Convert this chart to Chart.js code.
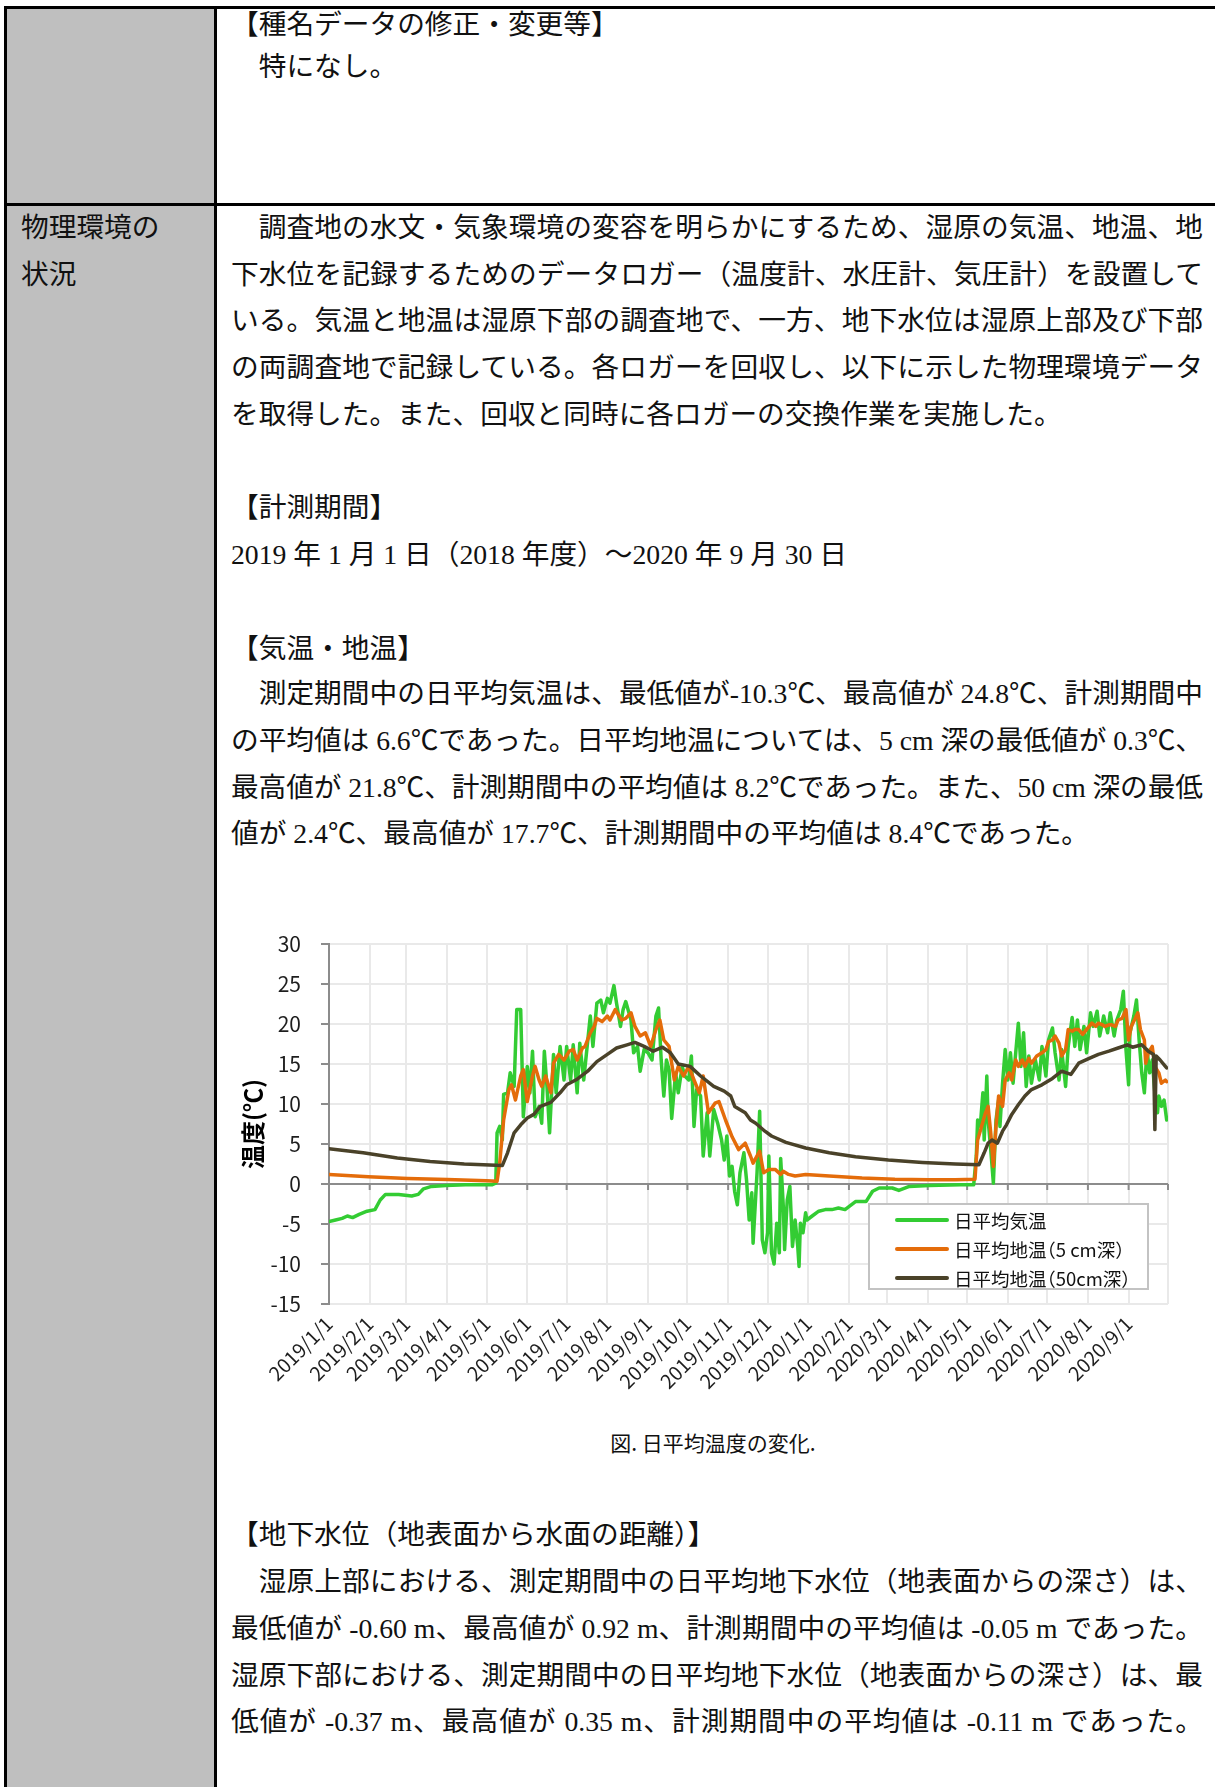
<!DOCTYPE html>
<html lang="ja">
<head>
<meta charset="utf-8">
<title>日平均温度の変化</title>
<script src="https://cdn.jsdelivr.net/npm/chart.js@4.4.1/dist/chart.umd.min.js"></script>
<style>
  html, body { margin: 0; padding: 0; background: #fff; }
  body { width: 1215px; height: 1787px; position: relative; overflow: hidden;
         font-family: "Liberation Serif", "Noto Sans CJK JP", serif; color: #111; }
  .ln { position: absolute; font-size: 27.7px; line-height: 46px; height: 46px; white-space: nowrap; }
  .jt { width: 972px; text-align: justify; text-align-last: justify; white-space: normal; }
  .rule { position: absolute; background: #000; }
  #gray { position: absolute; left: 6px; top: 8px; width: 208px; height: 1790px; background: #bfbfbf; }
  #chartBox { position: absolute; left: 228px; top: 904px; width: 970px; height: 506px; }
  #caption { position: absolute; left: 463px; width: 500px; top: 1428px; text-align: center;
             font-family: "Noto Sans CJK JP", sans-serif; font-size: 21px; line-height: 28px; color: #111; }
  #legend { position: absolute; left: 868px; top: 1203px; width: 277px; height: 83px;
            border: 2px solid #c3c3c3; background: #fff; font-family: "Noto Sans CJK JP", sans-serif;
            font-size: 18.5px; color: #111; font-feature-settings: "halt"; }
  .lg { position: absolute; left: 0; height: 26px; line-height: 26px; }
  .lg i { position: absolute; left: 25px; top: 11px; width: 54px; height: 4px; border-radius: 2px; }
  .lg span { position: absolute; left: 84px; top: 0; white-space: nowrap; }
</style>
</head>
<body>
<div id="gray"></div>
<div class="rule" style="left:4px;top:6px;width:1215px;height:2.5px"></div>
<div class="rule" style="left:4px;top:6px;width:2.5px;height:1790px"></div>
<div class="rule" style="left:214px;top:6px;width:2.5px;height:1790px"></div>
<div class="rule" style="left:4px;top:203px;width:1215px;height:2.5px"></div>

<div class="ln" style="left:231px;top:2px">【種名データの修正・変更等】</div>
<div class="ln" style="left:231px;top:44px">　特になし。</div>

<div class="ln" style="left:21px;top:205px">物理環境の</div>
<div class="ln" style="left:21px;top:252px">状況</div>

<div class="ln jt" style="left:231px;top:205px">　調査地の水文・気象環境の変容を明らかにするため、湿原の気温、地温、地</div>
<div class="ln jt" style="left:231px;top:252px">下水位を記録するためのデータロガー（温度計、水圧計、気圧計）を設置して</div>
<div class="ln jt" style="left:231px;top:298px">いる。気温と地温は湿原下部の調査地で、一方、地下水位は湿原上部及び下部</div>
<div class="ln jt" style="left:231px;top:345px">の両調査地で記録している。各ロガーを回収し、以下に示した物理環境データ</div>
<div class="ln" style="left:231px;top:392px">を取得した。また、回収と同時に各ロガーの交換作業を実施した。</div>

<div class="ln" style="left:231px;top:485px">【計測期間】</div>
<div class="ln" style="left:231px;top:532px">2019 年 1 月 1 日（2018 年度）～2020 年 9 月 30 日</div>

<div class="ln" style="left:231px;top:626px">【気温・地温】</div>
<div class="ln jt" style="left:231px;top:671px">　測定期間中の日平均気温は、最低値が-10.3℃、最高値が 24.8℃、計測期間中</div>
<div class="ln jt" style="left:231px;top:718px">の平均値は 6.6℃であった。日平均地温については、5 cm 深の最低値が 0.3℃、</div>
<div class="ln jt" style="left:231px;top:765px">最高値が 21.8℃、計測期間中の平均値は 8.2℃であった。また、50 cm 深の最低</div>
<div class="ln" style="left:231px;top:811px">値が 2.4℃、最高値が 17.7℃、計測期間中の平均値は 8.4℃であった。</div>

<div id="chartBox"><canvas id="myChart" width="970" height="506"></canvas></div>
<div id="legend">
  <div class="lg" style="top:2px"><i style="background:#33cc33"></i><span>日平均気温</span></div>
  <div class="lg" style="top:31px"><i style="background:#e46c0a"></i><span>日平均地温（5 cm深）</span></div>
  <div class="lg" style="top:60px"><i style="background:#4a4229"></i><span>日平均地温（50cm深）</span></div>
</div>
<div id="caption">図. 日平均温度の変化.</div>

<div class="ln" style="left:231px;top:1512px">【地下水位（地表面から水面の距離）】</div>
<div class="ln jt" style="left:231px;top:1559px">　湿原上部における、測定期間中の日平均地下水位（地表面からの深さ）は、</div>
<div class="ln jt" style="left:231px;top:1606px">最低値が -0.60 m、最高値が 0.92 m、計測期間中の平均値は -0.05 m であった。</div>
<div class="ln jt" style="left:231px;top:1653px">湿原下部における、測定期間中の日平均地下水位（地表面からの深さ）は、最</div>
<div class="ln jt" style="left:231px;top:1699px">低値が -0.37 m、最高値が 0.35 m、計測期間中の平均値は -0.11 m であった。</div>

<script>
// fit the justified lines: squeeze the ones that are too long, justify the rest
const lineWidth = 972;
document.querySelectorAll('.jt').forEach(el => {
  el.style.width = 'auto';
  el.style.whiteSpace = 'nowrap';
  el.style.display = 'inline-block';
  const w = el.getBoundingClientRect().width;
  const n = Array.from(el.textContent).length;
  if (w > lineWidth) {
    el.style.letterSpacing = ((lineWidth - w) / n) + 'px';
  } else {
    el.style.display = 'block';
    el.style.width = lineWidth + 'px';
    el.style.whiteSpace = 'normal';
  }
});

// days counted from 2019/1/1
const monthDays = [0, 31, 59, 90, 120, 151, 181, 212, 243, 273, 304, 334,
                   365, 396, 425, 456, 486, 517, 547, 578, 609, 639];
const monthLabels = ['2019/1/1', '2019/2/1', '2019/3/1', '2019/4/1', '2019/5/1', '2019/6/1',
                     '2019/7/1', '2019/8/1', '2019/9/1', '2019/10/1', '2019/11/1', '2019/12/1',
                     '2020/1/1', '2020/2/1', '2020/3/1', '2020/4/1', '2020/5/1', '2020/6/1',
                     '2020/7/1', '2020/8/1', '2020/9/1'];

// 日平均気温
const airDays = [0, 5, 10, 14, 18, 23, 29, 35, 39, 43, 53, 63, 68, 72, 78, 89, 104, 124, 127,
  128, 130, 132, 133, 136, 138, 141, 143, 146, 148, 151, 153, 155, 157, 160, 162, 164, 166, 168,
  171, 173, 176, 179, 181, 184, 186, 189, 191, 194, 199, 201, 204, 207, 209, 212, 214, 217, 219,
  222, 224, 226, 230, 232, 235, 237, 240, 243, 246, 249, 251, 253, 255, 257, 259, 261, 264, 266,
  269, 271, 274, 276, 278, 280, 283, 285, 288, 290, 293, 296, 299, 301, 303, 305, 307, 309, 311,
  313, 316, 318, 320, 322, 323, 326, 328, 330, 332, 334, 335, 337, 339, 341, 343, 344, 346, 347,
  349, 351, 353, 355, 357, 358, 359, 361, 363, 364, 368, 373, 378, 383, 388, 393, 401, 409, 414,
  419, 429, 434, 442, 457, 481, 491,
  493, 494, 496, 498, 499, 501, 502, 504, 506, 508, 510, 511, 513, 515, 517, 519, 521, 523, 525,
  527, 529, 531, 533, 535, 538, 541, 543, 546, 548, 551, 553, 556, 558, 561, 563, 566, 568, 570,
  572, 575, 577, 580, 582, 585, 587, 590, 593, 595, 598, 600, 603, 605, 607, 609, 610, 613, 615,
  617, 619, 621, 623, 625, 627, 629, 631, 632, 634, 636, 638];
const airTemp = [-4.7, -4.5, -4.3, -4.0, -4.2, -3.8, -3.4, -3.2, -2.0, -1.3, -1.3, -1.5, -1.3, -0.6, -0.3, -0.2, -0.1, -0.1, 0.1,
  6.4, 7.2, 5.5, 11.2, 11.4, 13.9, 12.2, 21.8, 21.8, 8.4, 14.7, 11.4, 16.6, 8.4, 9.7, 7.6, 16.6, 12.2, 6.4,
  16.2, 11.4, 17.2, 13.0, 17.2, 13.0, 17.4, 11.4, 17.6, 13.0, 21.0, 17.2, 22.6, 23.0, 21.4, 23.2, 22.6, 24.8, 22.6,
  19.7, 21.8, 22.8, 20.5, 16.4, 17.2, 14.1, 16.8, 16.4, 15.5, 21.0, 22.0, 15.5, 11.0, 15.5, 14.3, 8.2, 13.9, 11.4,
  14.7, 13.5, 13.0, 16.0, 7.2, 11.8, 11.0, 3.5, 8.9, 3.5, 9.3, 7.6, 5.5, 3.0, 6.0, 1.0, 2.2, -1.0, -2.6,
  1.4, 3.9, 0.5, -4.5, -1.1, -7.4, 1.4, 9.1, -7.0, -8.6, -6.1, 3.5, -8.6, -10.0, -4.9, -8.6, 3.2, -2.8, -8.2,
  -2.0, -0.3, -7.8, -4.5, -7.8, -10.3, -4.9, -6.1, -3.6, -4.5, -4.0, -3.4, -3.2, -3.2, -3.0, -3.2, -2.2, -2.2, -0.9,
  -0.5, -0.5, -0.8, -0.3, -0.2, -0.1, -0.1,
  3.5, 8.0, 7.2, 11.4, 5.5, 13.5, 8.0, 4.3, 0.1, 8.0, 10.5, 7.2, 12.6, 16.8, 13.0, 16.4, 12.6, 16.4, 20.1,
  14.7, 18.9, 12.2, 16.0, 12.6, 15.5, 13.0, 17.2, 13.5, 18.0, 19.5, 16.4, 13.0, 16.8, 12.2, 17.2, 20.8, 17.2, 20.5,
  16.8, 19.7, 16.4, 21.4, 19.7, 21.6, 18.5, 21.0, 18.9, 21.4, 18.5, 20.5, 21.8, 24.1, 16.8, 12.4, 18.9, 21.0, 23.0,
  18.0, 13.9, 11.4, 16.8, 13.9, 15.5, 11.4, 8.9, 11.0, 9.7, 10.5, 8.0];

// 日平均地温（5 cm深）
const soil5Days = [0, 30, 60, 90, 120, 128, 130, 133, 137, 139, 142, 146, 148, 151, 155, 157, 160, 162,
  165, 169, 171, 175, 179, 183, 186, 189, 193, 195, 199, 202, 204, 208, 212, 214, 218, 221, 223, 226,
  230, 233, 237, 241, 245, 249, 252, 255, 259, 263, 266, 270, 274, 278, 282, 285, 289, 294, 297, 302,
  307, 312, 317, 321, 323, 328, 331, 335, 340, 344, 346, 350, 355, 363, 381, 406, 431, 457, 477, 492,
  494, 497, 500, 502, 504, 506, 508, 510, 513, 515, 518, 520, 523, 525, 528, 530, 533, 535, 539, 543,
  546, 548, 551, 553, 556, 558, 561, 563, 566, 568, 571, 574, 576, 579, 581, 584, 586, 589, 591, 594,
  596, 599, 601, 604, 607, 609, 611, 614, 616, 618, 621, 622, 624, 627, 629, 632, 634, 637, 638];
const soil5Temp = [1.2, 0.9, 0.7, 0.55, 0.4, 0.35, 2.6, 8.0, 11.8, 12.4, 10.5, 13.5, 14.3, 10.3, 13.5, 14.7, 13.0, 12.2,
  13.5, 11.4, 15.1, 16.2, 15.5, 16.6, 16.8, 15.5, 17.0, 17.2, 18.9, 19.7, 20.7, 20.3, 21.0, 20.5, 21.8, 21.0, 20.5, 20.7,
  21.4, 19.7, 18.5, 18.9, 17.2, 19.3, 20.5, 18.0, 17.2, 13.0, 14.7, 13.5, 14.7, 13.0, 11.4, 13.5, 8.9, 10.1, 10.3, 8.0,
  5.9, 4.3, 5.1, 3.5, 2.6, 4.1, 1.4, 1.8, 1.8, 1.2, 1.6, 1.2, 1.0, 1.2, 1.0, 0.75, 0.6, 0.54, 0.54, 0.6,
  5.5, 7.2, 8.9, 9.7, 6.4, 2.2, 7.2, 11.0, 9.7, 13.0, 13.9, 13.0, 15.5, 14.7, 15.5, 14.7, 15.7, 15.1, 16.0, 16.4,
  16.8, 17.8, 18.0, 18.5, 17.6, 16.0, 16.8, 19.3, 19.1, 19.3, 19.3, 18.7, 19.1, 19.7, 20.1, 19.7, 20.1, 19.9, 19.7, 19.9,
  19.9, 19.7, 20.5, 20.7, 21.8, 18.0, 19.7, 20.7, 21.4, 19.3, 18.0, 15.1, 16.4, 17.2, 14.7, 13.9, 12.6, 13.0, 12.8];

// 日平均地温（50cm深）
const soil50Days = [0, 26, 52, 77, 103, 132, 136, 141, 146, 151, 156, 161, 169, 176, 181, 189, 197, 204,
  212, 219, 227, 233, 240, 247, 254, 260, 266, 275, 283, 293, 301, 306, 309, 317, 321, 325, 332, 337,
  348, 363, 381, 401, 426, 452, 477, 495, 499, 502, 505, 509, 513, 516, 520, 525, 530, 535, 543, 551,
  558, 565, 571, 579, 586, 594, 601, 608, 612, 619, 624, 628, 629, 630, 633, 637, 638];
const soil50Temp = [4.4, 3.9, 3.25, 2.8, 2.5, 2.3, 3.9, 6.4, 7.4, 8.25, 8.7, 9.7, 10.2, 11.4, 12.4, 13.1, 14.1, 15.3,
  16.2, 17.0, 17.4, 17.7, 17.2, 16.6, 17.1, 16.4, 15.0, 14.7, 13.5, 12.2, 11.6, 11.0, 9.7, 8.9, 8.0, 7.6, 6.6, 6.0,
  5.2, 4.5, 3.9, 3.4, 3.0, 2.7, 2.5, 2.4, 3.9, 5.1, 5.5, 5.1, 6.6, 7.4, 8.7, 9.9, 11.0, 11.8, 12.4, 13.2,
  14.1, 13.7, 15.1, 15.7, 16.2, 16.6, 17.0, 17.4, 17.1, 17.4, 16.6, 16.2, 6.8, 16.0, 15.5, 14.7, 14.5];

function pairs(days, vals) {
  return days.map((d, i) => ({ x: d, y: vals[i] }));
}

// small tick marks hanging below the 0 line at each month start
const zeroTicks = {
  id: 'zeroTicks',
  beforeDatasetsDraw(chart) {
    const ctx = chart.ctx;
    const xs = chart.scales.x;
    const y0 = chart.scales.y.getPixelForValue(0);
    ctx.save();
    ctx.strokeStyle = '#8c8c8c';
    ctx.lineWidth = 2;
    monthDays.forEach(d => {
      const px = xs.getPixelForValue(d);
      ctx.beginPath();
      ctx.moveTo(px, y0);
      ctx.lineTo(px, y0 + 6);
      ctx.stroke();
    });
    ctx.restore();
  }
};

Chart.defaults.font.family = '"Noto Sans CJK JP", "Noto Sans", sans-serif';
Chart.defaults.font.size = 20;
Chart.defaults.color = '#1e1e1e';

const lineStyle = { pointRadius: 0, borderWidth: 3.5, tension: 0, borderJoinStyle: 'round', borderCapStyle: 'round' };

let myChart = new Chart(document.getElementById('myChart'), {
  type: 'line',
  data: {
    datasets: [
      Object.assign({ label: '日平均気温', data: pairs(airDays, airTemp), borderColor: '#33cc33', order: 3 }, lineStyle),
      Object.assign({ label: '日平均地温（5 cm深）', data: pairs(soil5Days, soil5Temp), borderColor: '#e46c0a', order: 2 }, lineStyle),
      Object.assign({ label: '日平均地温（50cm深）', data: pairs(soil50Days, soil50Temp), borderColor: '#4a4229', order: 1 }, lineStyle)
    ]
  },
  options: {
    responsive: false,
    animation: false,
    devicePixelRatio: 1,
    layout: { padding: { top: 40, right: 30, bottom: 0, left: 0 } },
    plugins: { legend: { display: false }, tooltip: { enabled: false } },
    scales: {
      x: {
        type: 'linear',
        min: 0,
        max: 639,
        afterBuildTicks: s => { s.ticks = monthDays.map(v => ({ value: v })); },
        afterFit: s => { s.height = 106; },
        ticks: {
          autoSkip: false,
          minRotation: 45,
          maxRotation: 45,
          padding: 8,
          font: { size: 19.5 },
          callback: (v, i) => monthLabels[i] || ''
        },
        grid: {
          drawTicks: false,
          lineWidth: 2,
          color: c => (c.tick && c.tick.value === 0) ? 'rgba(0,0,0,0)' : '#e9e9e9'
        },
        border: { display: false }
      },
      y: {
        min: -15,
        max: 30,
        afterFit: s => { s.width = 101; },
        ticks: { stepSize: 5, padding: 20, font: { size: 21 } },
        grid: {
          lineWidth: 2,
          tickLength: 8,
          tickColor: '#8c8c8c',
          color: c => (c.tick && c.tick.value === 0) ? '#8c8c8c' : '#e9e9e9'
        },
        border: { color: '#8c8c8c', width: 2 },
        title: {
          display: true,
          text: '温度(℃)',
          color: '#000',
          font: { size: 24, weight: 'bold' },
          padding: { top: 10, bottom: 0 }
        }
      }
    }
  },
  plugins: [zeroTicks]
});
</script>
</body>
</html>
